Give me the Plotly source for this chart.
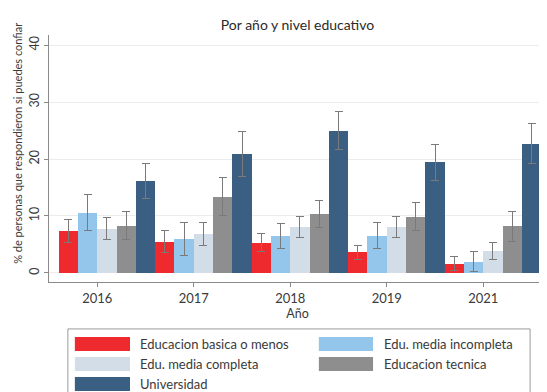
import plotly.graph_objects as go

# data
years = ["2016", "2017", "2018", "2019", "2021"]
series = ["Educacion basica o menos", "Edu. media incompleta", "Edu. media completa",
          "Educacion tecnica", "Universidad"]
colors = ["#ee2a2e", "#93c6ea", "#d2dde7", "#8e8e8e", "#3b5f82"]

basica = [7.3, 5.5, 5.3, 3.6, 1.6]
media_inc = [10.6, 5.9, 6.5, 6.5, 2.0]
media_comp = [7.8, 6.8, 8.1, 8.1, 3.8]
tecnica = [8.3, 13.4, 10.3, 9.9, 8.2]
universidad = [16.2, 20.9, 25.0, 19.4, 22.7]

err_basica = [2.0, 1.9, 1.6, 1.3, 1.2]
err_media_inc = [3.1, 2.9, 2.2, 2.3, 1.7]
err_media_comp = [2.0, 2.0, 1.8, 1.8, 1.5]
err_tecnica = [2.5, 3.3, 2.4, 2.5, 2.6]
err_universidad = [3.1, 4.0, 3.3, 3.1, 3.5]

values = [basica, media_inc, media_comp, tecnica, universidad]
errors = [err_basica, err_media_inc, err_media_comp, err_tecnica, err_universidad]

font = "Lato, 'Open Sans', Arial, sans-serif"
xpos = list(range(len(years)))

fig = go.Figure()
for name, col, vals, errs in zip(series, colors, values, errors):
    fig.add_trace(go.Bar(
        x=xpos, y=vals, name=name, marker=dict(color=col, line=dict(width=0)),
        error_y=dict(type='data', array=errs, color='#7a7a7a', thickness=1, width=4),
        showlegend=False))

# manual legend (Stata style big swatches)
fig.add_shape(type='rect', xref='paper', yref='paper', x0=0.038, x1=0.968, y0=-0.48, y1=-0.19,
              line=dict(color='#9a9a9a', width=1), fillcolor='white')
leg_x = [[0.052, 0.163, 0.179], [0.543, 0.652, 0.670]]
leg_y = [-0.251, -0.332, -0.413]
for k, (name, col) in enumerate(zip(series, colors)):
    cx = leg_x[k % 2]
    cy = leg_y[k // 2]
    fig.add_shape(type='rect', xref='paper', yref='paper', x0=cx[0], x1=cx[1],
                  y0=cy - 0.028, y1=cy + 0.028, line=dict(width=0), fillcolor=col)
    fig.add_annotation(xref='paper', yref='paper', x=cx[2], y=cy, text=name, showarrow=False,
                       xanchor='left', yanchor='middle', font=dict(size=13, color='#3a3a3a'))

# y title placed like the original (not centred on the plot)
fig.add_annotation(xref='paper', yref='paper', x=-0.064, y=0.56, textangle=-90,
                   text="% de personas que respondieron si puedes confiar", showarrow=False,
                   xanchor='center', yanchor='middle', font=dict(size=11, color='#3a3a3a'))

# page body adds an 8px offset, margins compensate for it
fig.update_layout(
    width=547, height=392,
    margin=dict(l=41, r=9, t=27, b=118),
    paper_bgcolor='white', plot_bgcolor='white',
    font=dict(family=font, size=13, color='#3a3a3a'),
    barmode='group', bargap=0, bargroupgap=0,
    title=dict(text="Por año y nivel educativo", xref='paper', x=0.5, xanchor='center',
               y=0.957, yanchor='middle', font=dict(size=14, color='#2a2a2a')),
    xaxis=dict(range=[-0.6, 4.55], tickvals=[i - 0.1 for i in xpos], ticktext=years,
               showline=True, linecolor='#8a8a8a', linewidth=1, ticks='outside', ticklen=4,
               tickcolor='#8a8a8a', showgrid=False, zeroline=False, automargin=False,
               title=dict(text="Año", standoff=0, font=dict(size=12.5))),
    yaxis=dict(range=[-1.6, 41.8], tickvals=[0, 10, 20, 30, 40], tickangle=-90,
               showline=True, linecolor='#8a8a8a', linewidth=1, ticks='outside', ticklen=4,
               tickcolor='#8a8a8a', showgrid=True, gridcolor='#ececec', zeroline=False,
               automargin=False, tickfont=dict(size=12.5)),
)

fig.write_html("out.html")
